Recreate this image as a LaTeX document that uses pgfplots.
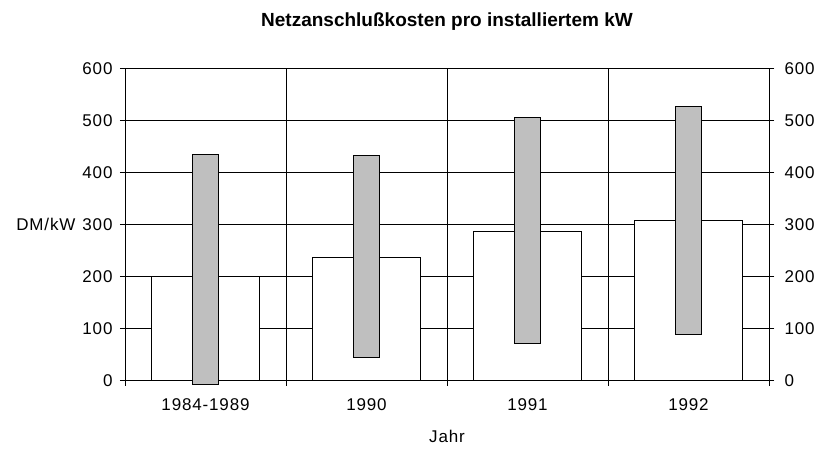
\documentclass[border=0pt]{standalone}
\usepackage{fontspec}
\setmainfont{Liberation Sans}
\newfontfamily\tickfont[LetterSpace=5]{Liberation Sans}
\usepackage{pgfplots}
\pgfplotsset{compat=1.18}
\begin{document}
\begin{tikzpicture}
\path[use as bounding box] (-125pt,-69.3pt) rectangle (694pt,380.7pt);
\pgfplotsset{
  common/.style={
    at={(0pt,0pt)}, anchor=south west,
    scale only axis, width=644pt, height=312pt,
    xmin=-0.5, xmax=3.5, ymin=0, ymax=600,
    ytick={0,100,...,600},
    tick align=center, major tick length=10pt, minor tick length=10pt,
    every tick/.style={black, line width=0.8pt},
    axis line style={black, line width=0.8pt},
    tick label style={font=\tickfont\fontsize{17}{20}\selectfont},
    /pgf/number format/assume math mode=true,
  },
  rangebar/.style={fill=gray!50, draw=black, line width=0.8pt, mark=none},
}
\begin{axis}[common,
  xtick={0,1,2,3},
  xticklabels={1984-1989,1990,1991,1992},
  major x tick style={draw=none},
  minor xtick={-0.5,0.5,1.5,2.5,3.5},
  xminorgrids=true, ymajorgrids=true,
  grid style={black, line width=0.8pt},
  minor grid style={black, line width=0.8pt},
  ytick pos=both, yticklabel pos=left,
  xtick pos=bottom,
  xticklabel style={anchor=center, yshift=-19pt},
  yticklabel style={anchor=east, xshift=-4pt},
  title={\bfseries Netzanschlußkosten pro installiertem kW},
  title style={at={(0.5,1)}, anchor=center, yshift=41pt, font=\fontsize{19}{22}\selectfont},
  xlabel={Jahr},
  xlabel style={at={(0.5,0)}, anchor=center, yshift=-56pt, font=\tickfont\fontsize{17}{20}\selectfont},
  ylabel={DM/kW},
  every axis y label/.style={at={(0,0.5)}, anchor=east, xshift=-46pt, font=\tickfont\fontsize{17}{20}\selectfont},
]
\addplot[ybar, bar width=0.668, fill=white, draw=black, line width=0.8pt] coordinates {(0,200) (1,238) (2,288) (3,308)};
\end{axis}
\begin{axis}[common,
  clip=false,
  xtick=\empty,
  ytick pos=right, yticklabel pos=right,
  yticklabel style={anchor=west, xshift=7pt},
]
% floating range bars: low to high
\addplot[rangebar] coordinates {(-0.083,-8) (0.083,-8) (0.083,435) (-0.083,435)} -- cycle;
\addplot[rangebar] coordinates {(0.917,44) (1.083,44) (1.083,434) (0.917,434)} -- cycle;
\addplot[rangebar] coordinates {(1.917,71) (2.083,71) (2.083,507) (1.917,507)} -- cycle;
\addplot[rangebar] coordinates {(2.917,90) (3.083,90) (3.083,527) (2.917,527)} -- cycle;
\end{axis}
\end{tikzpicture}
\end{document}
